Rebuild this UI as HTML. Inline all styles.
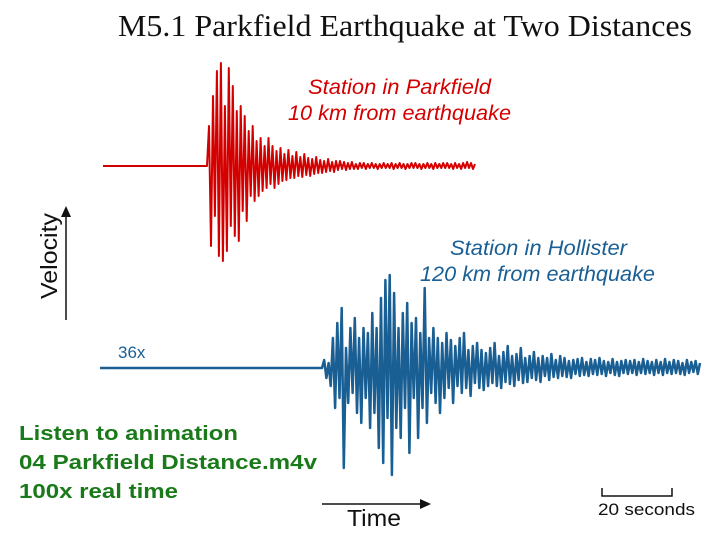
<!DOCTYPE html>
<html><head><meta charset="utf-8"><style>
html,body{margin:0;padding:0;background:#fff;width:720px;height:540px;overflow:hidden}
svg{display:block}
</style></head><body>
<svg id="chart" width="720" height="540" viewBox="0 0 720 540" xmlns="http://www.w3.org/2000/svg">
<text x="118" y="36" font-family="Liberation Serif, serif" font-size="31" fill="#111" textLength="574" lengthAdjust="spacingAndGlyphs">M5.1 Parkfield Earthquake at Two Distances</text>
<g font-family="Liberation Sans, sans-serif" font-style="italic" font-size="21" fill="#d40000" text-anchor="end">
<text x="491" y="94" textLength="183" lengthAdjust="spacingAndGlyphs">Station in Parkfield</text>
<text x="511" y="120" textLength="223" lengthAdjust="spacingAndGlyphs">10 km from earthquake</text>
</g>
<g font-family="Liberation Sans, sans-serif" font-style="italic" font-size="21" fill="#1a5f93" text-anchor="end">
<text x="627" y="255" textLength="177" lengthAdjust="spacingAndGlyphs">Station in Hollister</text>
<text x="655" y="281" textLength="235" lengthAdjust="spacingAndGlyphs">120 km from earthquake</text>
</g>
<text x="118" y="358" font-family="Liberation Sans, sans-serif" font-size="17" fill="#1a5f93">36x</text>
<g>
<line x1="66" y1="320" x2="66" y2="214" stroke="#111" stroke-width="1.5"/>
<polygon points="66,206 61,217 71,217" fill="#111"/>
<text transform="translate(57,299) rotate(-90)" font-family="Liberation Sans, sans-serif" font-size="23" fill="#111" textLength="86" lengthAdjust="spacingAndGlyphs">Velocity</text>
</g>
<g>
<line x1="322" y1="504" x2="422" y2="504" stroke="#111" stroke-width="1.5"/>
<polygon points="431,504 420,499 420,509" fill="#111"/>
<text x="347" y="526" font-family="Liberation Sans, sans-serif" font-size="23" fill="#111" textLength="54" lengthAdjust="spacingAndGlyphs">Time</text>
</g>
<g>
<path d="M602,488 V496 H672 V488" fill="none" stroke="#111" stroke-width="1.5"/>
<text x="598" y="515" font-family="Liberation Sans, sans-serif" font-size="17" fill="#111" textLength="97" lengthAdjust="spacingAndGlyphs">20 seconds</text>
</g>
<g font-family="Liberation Sans, sans-serif" font-weight="bold" font-size="20" fill="#1a7a1a">
<text x="19" y="440" textLength="219" lengthAdjust="spacingAndGlyphs">Listen to animation</text>
<text x="19" y="469" textLength="298" lengthAdjust="spacingAndGlyphs">04 Parkfield Distance.m4v</text>
<text x="19" y="498" textLength="159" lengthAdjust="spacingAndGlyphs">100x real time</text>
</g>
</svg>
<script>
// Parkfield (red) amplitudes after onset, positive = up
const redValues = [0,40,-80,70,-50,95,-90,103,-95,60,-85,98,-60,80,-70,55,-75,60,-45,50,-55,35,-30,40,-35,25,-30,28,-25,20,-22,28,-18,20,-22,15,-18,18,-15,12,-14,16,-12,10,-12,14,-10,9,-11,12,-9,8,-10,7,-8,9,-7,6,-7,5,-6,7,-5,4,-6,5,-4,5,-3,4,-4,3,-3,4,-3,2,-3,3,-2,3,-3,2,-2,3,-2,2,-3,2,-2,3,-2,2,-2,3,-3,2,-2,3,-2,2,-3,2,-2,3,-2,3,-2,2,-3,2,-2,3,-2,2,-3,3,-2,2,-2,3,-2,3,-2,2,-3,3,-2,2,-3,3,-2,4,-2,3,-3,2];
// Hollister (blue) amplitudes after onset
const blueValues = [0,8,-10,5,-18,30,-40,45,-30,60,-100,20,-35,40,-25,50,-45,30,-55,40,-30,35,-60,55,-45,40,-80,70,-95,88,-50,93,-107,75,-60,40,-70,55,-40,65,-85,45,-30,50,-70,35,-40,80,-55,30,-25,40,-35,30,-45,25,-30,35,-20,28,-35,22,-18,30,-25,35,-20,18,-28,22,-15,25,-20,18,-22,15,-18,20,-15,25,-18,12,-20,16,-14,22,-16,12,-18,14,-12,20,-15,10,-14,12,-10,16,-12,10,-14,12,-8,10,-12,14,-9,8,-10,12,-8,10,-9,7,-10,8,-6,9,-8,10,-7,6,-8,9,-6,8,-7,10,-6,7,-8,6,-5,9,-7,6,-8,7,-5,8,-6,7,-5,8,-7,6,-5,9,-6,7,-5,6,-7,8,-5,6,-7,9,-5,6,-6,8,-5,7,-6,5,-7,8,-5,6,-4,7,-6,5];
const redPre = [0,0];
const bluePre = [0,0,0,0,0,0,0,0,0,0];

const svg = document.getElementById('chart');
const NS = 'http://www.w3.org/2000/svg';
function xScaleRed(i){return 207 + i*(475-207)/(redValues.length-1);}
function yScaleRed(v){return 166 - v;}
function xScaleBlue(i){return 322 + i*(700-322)/(blueValues.length-1);}
function yScaleBlue(v){return 368 - v;}

function buildTrace(pre, preStart, preEnd, vals, xs, ys){
  let d = '';
  pre.forEach((v,i)=>{
    const x = preStart + (preEnd-preStart)*i/(pre.length-1);
    d += (i? 'L':'M') + x.toFixed(1) + ',' + ys(v).toFixed(1);
  });
  vals.forEach((v,i)=>{ d += 'L' + xs(i).toFixed(1) + ',' + ys(v).toFixed(1); });
  return d;
}
const red = document.createElementNS(NS,'path');
red.setAttribute('d', buildTrace(redPre,103,207,redValues,xScaleRed,yScaleRed));
red.setAttribute('fill','none');red.setAttribute('stroke','#d40000');red.setAttribute('stroke-width','2');red.setAttribute('stroke-linejoin','round');


svg.appendChild(red);
const blue = document.createElementNS(NS,'path');
blue.setAttribute('d', buildTrace(bluePre,100,322,blueValues,xScaleBlue,yScaleBlue));
blue.setAttribute('fill','none');blue.setAttribute('stroke','#1a5f93');blue.setAttribute('stroke-width','2.5');blue.setAttribute('stroke-linejoin','round');


svg.appendChild(blue);
</script>
</body></html>
